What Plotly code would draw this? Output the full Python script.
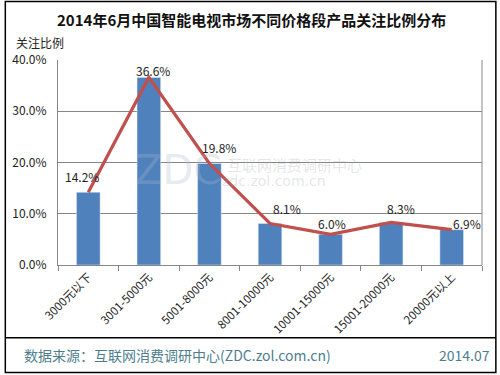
import plotly.graph_objects as go

categories = ["3000元以下", "3001-5000元", "5001-8000元", "8001-10000元",
              "10001-15000元", "15001-20000元", "20000元以上"]
values = [14.2, 36.6, 19.8, 8.1, 6.0, 8.3, 6.9]
y_ticks = [0, 10, 20, 30, 40]

W, H = 500, 375
L, R, T, B = 54, 482.5, 59.5, 265.5

def px(x):
    return (x - L) / (R - L)

def py(y):
    return (B - y) / (B - T)

fig = go.Figure()
fig.add_trace(go.Bar(x=categories, y=values, marker_color="#4F81BD",
                     width=0.39, hoverinfo="skip"))
fig.add_trace(go.Scatter(x=categories, y=values, mode="lines",
                         line=dict(color="#C0504D", width=3.2), hoverinfo="skip"))

# data label offsets (pixels) relative to each point
offsets = [(-6, -16), (4, -7), (10, -16), (17, -15), (1, -11), (10, -14), (15, -6)]
for c, v, (dx, dy) in zip(categories, values, offsets):
    fig.add_annotation(x=c, y=v, text=f"{v:.1f}%", showarrow=False,
                       xanchor="center", yanchor="middle",
                       xshift=dx, yshift=-dy,
                       font=dict(size=12, color="#222222", family="Noto Sans CJK SC"))

def txt(x, y, text, size, color, family="Noto Sans CJK SC", xanchor="center"):
    fig.add_annotation(xref="paper", yref="paper", x=px(x), y=py(y), text=text,
                       showarrow=False, xanchor=xanchor, yanchor="middle",
                       font=dict(size=size, color=color, family=family))

# watermark
txt(175, 170, "ZDC", 40, "rgba(170,185,200,0.3)", "DejaVu Sans")
txt(293, 165, "互联网消费调研中心", 15, "rgba(160,170,180,0.3)")
txt(272, 181, "zdc.zol.com.cn", 14, "rgba(160,170,180,0.3)", "DejaVu Sans")

# title and texts
txt(250, 19, "<b>2014年6月中国智能电视市场不同价格段产品关注比例分布</b>", 15, "#111111")
txt(10, 42, "关注比例", 12, "#222222", xanchor="left")
txt(18, 356, "数据来源：互联网消费调研中心(ZDC.zol.com.cn)", 14, "#4E7E8E", xanchor="left")
txt(493, 356, "2014.07", 14, "#4E7E8E", xanchor="right")

# borders
fig.add_shape(type="rect", xref="paper", yref="paper", x0=px(0.75), x1=px(496.5),
              y0=py(0.75), y1=py(373.5), line=dict(color="#000000", width=1.5))
fig.add_shape(type="line", xref="paper", yref="paper", x0=px(0.75), x1=px(496.5),
              y0=py(338.5), y1=py(338.5), line=dict(color="#000000", width=1.5))
fig.add_shape(type="line", xref="paper", yref="paper", x0=1, x1=1, y0=0, y1=1,
              line=dict(color="#878787", width=1))

fig.update_layout(
    width=W, height=H, showlegend=False,
    margin=dict(l=L, r=W - R, t=T, b=H - B),
    paper_bgcolor="white", plot_bgcolor="white",
    font=dict(family="Noto Sans CJK SC", color="#222222"),
    bargap=0.61,
)
fig.update_xaxes(type="category", tickangle=-45, tickfont=dict(size=11.5),
                 ticks="outside", tickson="boundaries", ticklen=5, tickcolor="#878787",
                 showline=True, linecolor="#878787", linewidth=1, showgrid=False,
                 range=[-0.5, len(categories) - 0.5])
fig.update_yaxes(range=[0, 40], tickvals=y_ticks,
                 ticktext=[f"{t:.1f}%" for t in y_ticks], tickfont=dict(size=12),
                 showgrid=True, gridcolor="#878787", gridwidth=1,
                 showline=True, linecolor="#878787", linewidth=1,
                 ticks="", ticklabelstandoff=8, zeroline=False)

fig.write_html("out.html", config={"displayModeBar": False},
               post_script="document.body.style.margin='0px';")
